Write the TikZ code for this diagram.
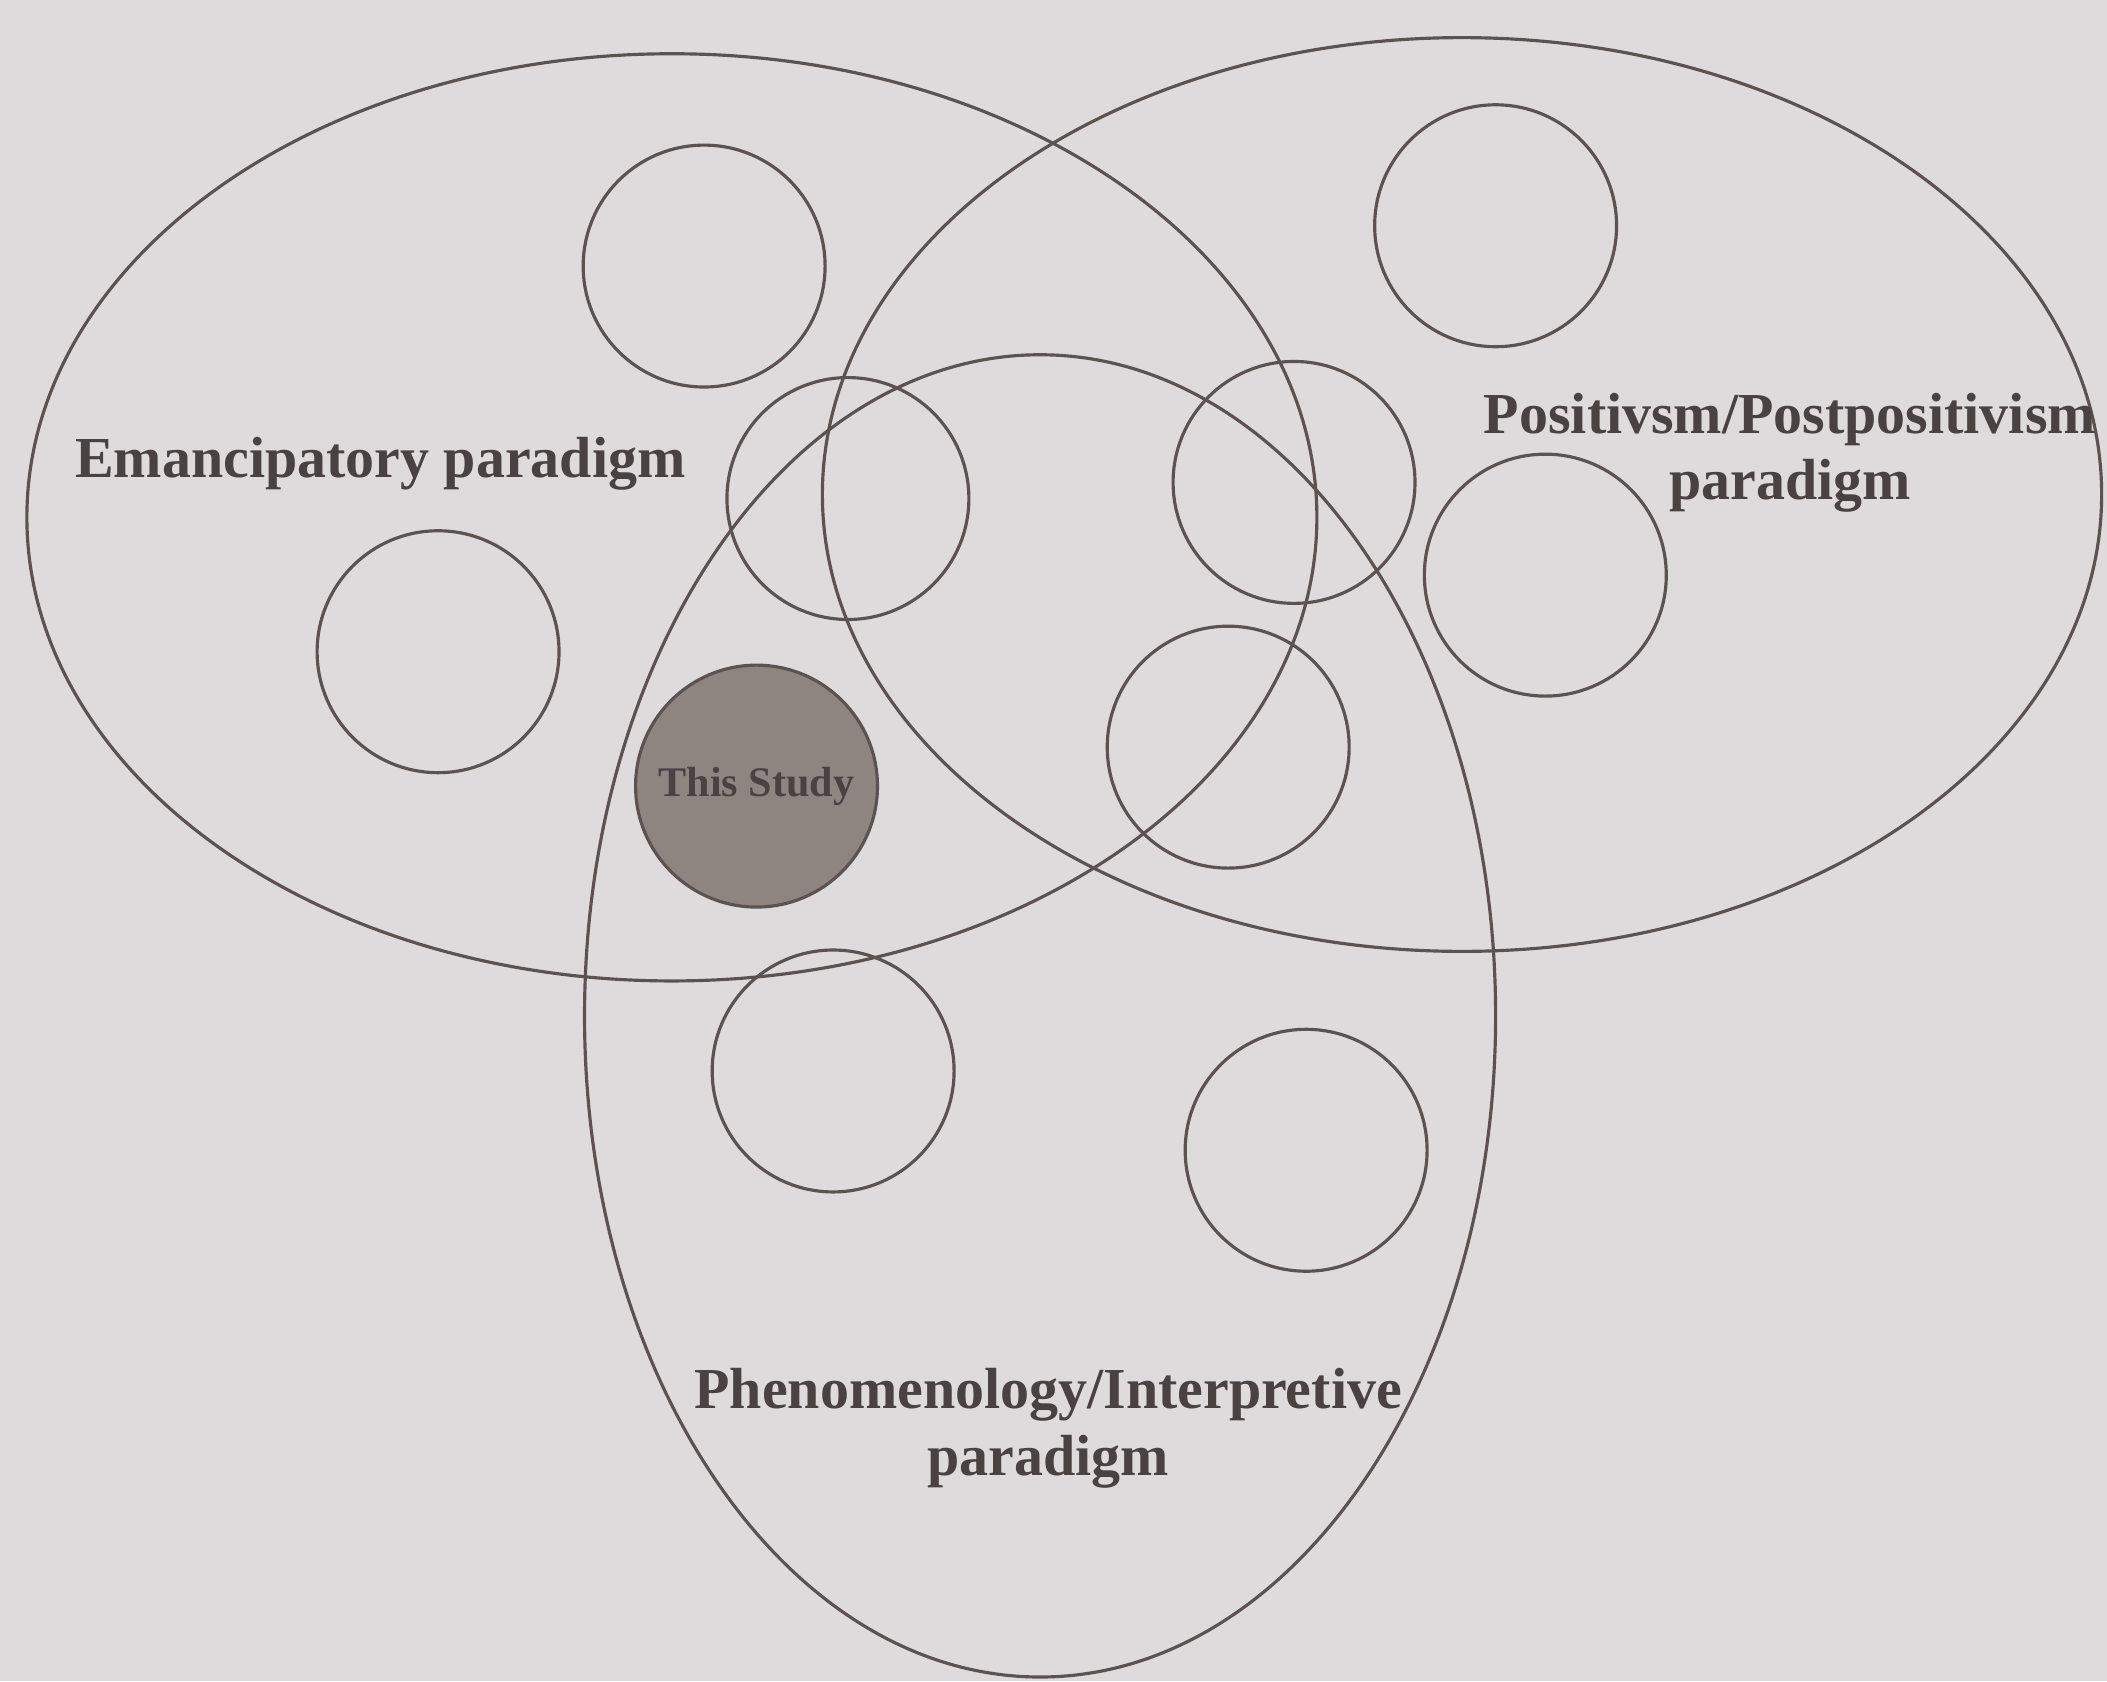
\documentclass[tikz,border=0pt]{standalone}
\usepackage{fontspec}
\setmainfont{Liberation Serif}
\definecolor{paperTone}{RGB}{223,218,220}
\definecolor{inkTone}{RGB}{92,82,82}
\definecolor{studyTone}{RGB}{142,133,129}
\colorlet{labelColor}{inkTone!80!black}

\begin{document}
\begin{tikzpicture}[x=0.013438cm,y=-0.013438cm,line width=0.9pt,
  smallCircle/.style={draw=inkTone,circle,minimum size=2.42cm,inner sep=0pt},
  paradigmLabel/.style={text=labelColor,font=\bfseries\fontsize{16.5}{19}\selectfont,align=center}]
\fill[paperTone] (0,0) rectangle (1568,1251);
\useasboundingbox (0,0) rectangle (1568,1251);
% the three paradigms
\draw[inkTone] (500,385) ellipse [x radius=480,y radius=345];
\draw[inkTone] (1088,368) ellipse [x radius=476,y radius=340];
\draw[inkTone] (774,756) ellipse [x radius=339,y radius=492];
% empty circles
\foreach \name/\cx/\cy in {emTop/524/198,posTop/1113/168,emMid/631/371,posMid/963/359,
  posRight/1150/428,emLeft/326/485,posLow/914/556,phenLeft/620/797,phenRight/972/856}
  \node[smallCircle] (\name) at (\cx,\cy) {};
\node[smallCircle,fill=studyTone,text=labelColor,font=\bfseries\fontsize{12}{14}\selectfont] (study) at (563,585) {This Study};
% labels
\node[paradigmLabel] (emLabel) at (283,345) {Emancipatory paradigm};
\node[paradigmLabel] (posLabel) at (1332,337) {Positivsm/Postpositivism\\paradigm};
\node[paradigmLabel] (phenLabel) at (780,1063) {Phenomenology/Interpretive\\paradigm};
\end{tikzpicture}
\end{document}
